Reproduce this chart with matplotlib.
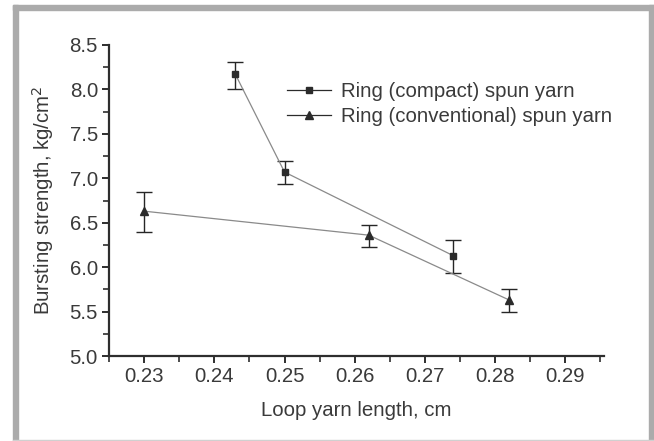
import matplotlib
matplotlib.use("Agg")
import matplotlib.pyplot as plt
from matplotlib.patches import Rectangle
from matplotlib.ticker import MultipleLocator

plt.rcParams['font.family'] = ['Liberation Sans', 'DejaVu Sans']

# loop yarn length (cm) vs bursting strength (kg/cm2)
compact_x = [0.243, 0.250, 0.274]
compact_y = [8.17, 7.07, 6.13]
compact_err_hi = [8.31, 7.19, 6.31]
compact_err_lo = [8.01, 6.94, 5.93]

conv_x = [0.230, 0.262, 0.282]
conv_y = [6.63, 6.36, 5.63]
conv_err_hi = [6.85, 6.47, 5.75]
conv_err_lo = [6.39, 6.23, 5.49]

labels = ['Ring (compact) spun yarn', 'Ring (conventional) spun yarn']
xticks = [0.23, 0.24, 0.25, 0.26, 0.27, 0.28, 0.29]
yticks = [5.0, 5.5, 6.0, 6.5, 7.0, 7.5, 8.0, 8.5]

W, H = 654, 441
fs = 14.7
fig = plt.figure(figsize=(W / 100, H / 100), dpi=100)

# grey frame around the figure
frame = '#ababab'
fig.patches.append(Rectangle((13 / W, 0), 5 / W, 1 - 5 / H, transform=fig.transFigure, color=frame))
fig.patches.append(Rectangle((13 / W, 1 - 10 / H), 1, 5 / H, transform=fig.transFigure, color=frame))
fig.patches.append(Rectangle((649 / W, 0), 5 / W, 1 - 5 / H, transform=fig.transFigure, color=frame))
fig.patches.append(Rectangle((13 / W, 0), 1, 1.2 / H, transform=fig.transFigure, color='#d0d0d0'))

ax = fig.add_axes([109 / W, 85 / H, (604 - 109) / W, (396 - 85) / H])

def draw(x, y, hi, lo, marker, ms, label):
    err = [[v - l for v, l in zip(y, lo)], [h - v for v, h in zip(y, hi)]]
    ax.errorbar(x, y, yerr=err, fmt='none', ecolor='#262626', elinewidth=1.0,
                capsize=5.5, capthick=1.0, zorder=2)
    ax.plot(x, y, color='#8a8a8a', lw=0.9, zorder=3)
    ax.plot(x, y, ls='none', marker=marker, ms=ms, color='#2b2b2b', zorder=4)
    # legend proxy
    ax.plot([], [], color='#2b2b2b', lw=0.9, marker=marker, ms=ms, label=label)

draw(compact_x, compact_y, compact_err_hi, compact_err_lo, 's', 5.0, labels[0])
draw(conv_x, conv_y, conv_err_hi, conv_err_lo, '^', 6.0, labels[1])

ax.set_xlim(0.225, 0.2955)
ax.set_ylim(5.0, 8.5)
ax.set_xticks(xticks)
ax.set_yticks(yticks)
ax.set_xticklabels([f'{t:.2f}' for t in xticks])
ax.set_yticklabels([f'{t:.1f}' for t in yticks])
ax.xaxis.set_minor_locator(MultipleLocator(0.005))
ax.yaxis.set_minor_locator(MultipleLocator(0.25))

for s in ['top', 'right']:
    ax.spines[s].set_visible(False)
for s in ['left', 'bottom']:
    ax.spines[s].set_linewidth(1.6)
    ax.spines[s].set_color('#2e2e2e')

ax.tick_params(which='major', direction='out', length=5, width=1.4, colors='#2e2e2e',
               labelsize=fs, labelcolor='#3a3a3a', pad=3)
ax.tick_params(which='minor', direction='out', length=4, width=1.2, colors='#2e2e2e')

ax.set_xlabel('Loop yarn length, cm', fontsize=fs, color='#3a3a3a', labelpad=11)
ax.set_ylabel('Bursting strength, kg/cm$^2$', fontsize=fs, color='#3a3a3a', labelpad=10)

ax.legend(loc='upper left', bbox_to_anchor=(0.36, 0.88), frameon=False, fontsize=fs,
          handlelength=2.15, handletextpad=0.5, labelspacing=0.3, borderaxespad=0,
          borderpad=0, labelcolor='#3a3a3a')

fig.savefig('out.png', dpi=100)
